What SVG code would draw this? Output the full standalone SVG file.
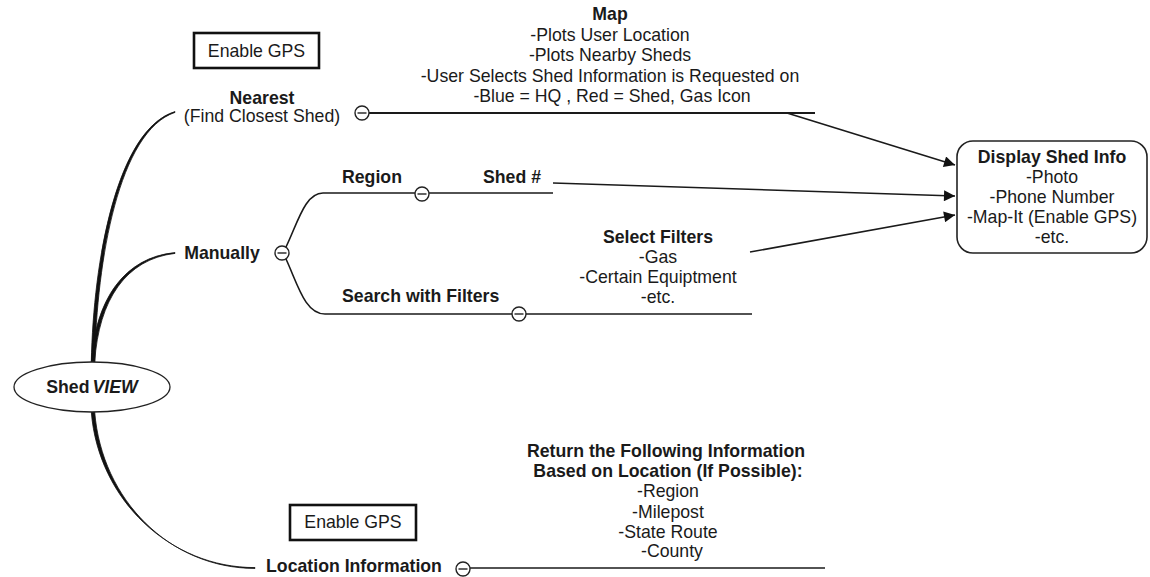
<svg xmlns="http://www.w3.org/2000/svg" width="1150" height="577" viewBox="0 0 1150 577">
<style>
text{font-family:"Liberation Sans",Arial,sans-serif;font-size:17.7px;fill:#1a1a1a}
.b{font-weight:bold}
.c{text-anchor:middle}
.ln{fill:none;stroke:#1a1a1a;stroke-width:1.6}
.br{fill:#111;stroke:#111;stroke-width:0.8;stroke-linejoin:round}
.box{fill:#fff;stroke:#111;stroke-width:2.6}
.tg{fill:#fff;stroke:#222;stroke-width:1.4}
</style>
<defs>
<marker id="ah" viewBox="0 0 10 10" refX="10" refY="5" markerWidth="16" markerHeight="11" markerUnits="userSpaceOnUse" orient="auto">
<path d="M0,0 L10,5 L0,10 z" fill="#111"/>
</marker>
<g id="tog"><circle r="7" class="tg"/><line x1="-4.5" y1="0" x2="4.5" y2="0" stroke="#222" stroke-width="1.4"/></g>
</defs>
<rect width="1150" height="577" fill="#fff"/>
<g id="connectors">
<path class="br" d="M91.3,362 C93.3,260 117,129.3 175,111.6 L175,112.4 C119,131 96.7,260 94.7,362 Z"/>
<path class="br" d="M91.3,362 C95.3,300 124,257.3 175,252.6 L175,253.4 C126,259 98.7,300 94.7,362 Z"/>
<path class="br" d="M91.3,412 C98.3,500 170,567.6 255,567.6 L255,568.4 C170,568.4 101.7,500 94.7,412 Z"/>
<path class="ln" d="M369,113 L815,113" style="stroke-width:2"/>
<path class="ln" d="M286,247 C298,222 305,193 323,193 L553,193"/>
<path class="ln" d="M286,259 C298,285 305,314 325,314 L752,314"/>
<path class="ln" d="M470,568 L825,568"/>
<path class="ln" d="M787,113 L955,165" marker-end="url(#ah)"/>
<path class="ln" d="M553,183 L955,196" marker-end="url(#ah)"/>
<path class="ln" d="M750,252 L955,215" marker-end="url(#ah)"/>
<use href="#tog" x="362" y="113"/>
<use href="#tog" x="282" y="253"/>
<use href="#tog" x="422" y="194"/>
<use href="#tog" x="519" y="314"/>
<use href="#tog" x="463" y="569"/>
</g>
<g id="root">
<ellipse cx="92" cy="387" rx="78" ry="25" fill="#fff" stroke="#222" stroke-width="1.3"/>
<text x="92" y="393" class="b c">Shed<tspan dx="3" font-style="italic">VIEW</tspan></text>
</g>
<g id="enable-gps-1">
<rect x="194" y="33" width="125" height="35" class="box"/>
<text x="256.5" y="57" class="c">Enable GPS</text>
</g>
<g id="nearest">
<text x="262" y="104" class="b c">Nearest</text>
<text x="262" y="122" class="c">(Find Closest Shed)</text>
</g>
<g id="map">
<text x="610" y="20" class="b c">Map</text>
<text x="610" y="40.5" class="c">-Plots User Location</text>
<text x="610" y="61" class="c">-Plots Nearby Sheds</text>
<text x="610" y="81.5" class="c">-User Selects Shed Information is Requested on</text>
<text x="612" y="102" class="c">-Blue = HQ , Red = Shed, Gas Icon</text>
</g>
<g id="manually">
<text x="222" y="259" class="b c">Manually</text>
</g>
<g id="region">
<text x="342" y="183" class="b">Region</text>
</g>
<g id="shed-num">
<text x="483" y="183" class="b">Shed #</text>
</g>
<g id="search">
<text x="342" y="302" class="b">Search with Filters</text>
</g>
<g id="select-filters">
<text x="658" y="243" class="b c">Select Filters</text>
<text x="658" y="263" class="c">-Gas</text>
<text x="658" y="283" class="c">-Certain Equiptment</text>
<text x="658" y="303" class="c">-etc.</text>
</g>
<g id="display-shed-info">
<rect x="957" y="141" width="190" height="112" rx="16" ry="16" fill="#fff" stroke="#222" stroke-width="1.6"/>
<text x="1052" y="163" class="b c">Display Shed Info</text>
<text x="1052" y="183" class="c">-Photo</text>
<text x="1052" y="203" class="c">-Phone Number</text>
<text x="1052" y="223" class="c">-Map-It (Enable GPS)</text>
<text x="1052" y="243" class="c">-etc.</text>
</g>
<g id="enable-gps-2">
<rect x="290" y="505" width="126" height="35" class="box"/>
<text x="353" y="528" class="c">Enable GPS</text>
</g>
<g id="location">
<text x="354" y="572" class="b c">Location Information</text>
</g>
<g id="return-info">
<text x="666" y="457" class="b c">Return the Following Information</text>
<text x="668" y="477" class="b c">Based on Location (If Possible):</text>
<text x="668" y="497" class="c">-Region</text>
<text x="668" y="518" class="c">-Milepost</text>
<text x="668" y="538" class="c">-State Route</text>
<text x="672" y="557" class="c">-County</text>
</g>
</svg>
